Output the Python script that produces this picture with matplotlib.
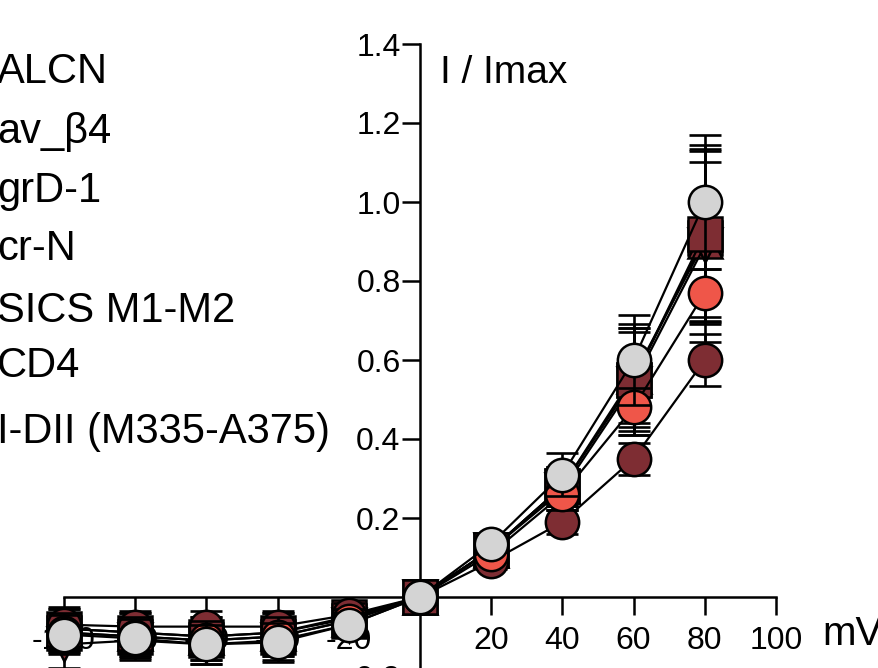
import matplotlib
matplotlib.use("Agg")
import matplotlib.pyplot as plt

plt.rcParams['font.family'] = ['Liberation Sans', 'DejaVu Sans']
plt.rcParams['axes.unicode_minus'] = False

W, H = 879, 668

mv = [-100, -80, -60, -40, -20, 0, 20, 40, 60, 80]

# legend texts (left part of the picture is cut off)
labels = ["ALCN", "av_\u03b24", "grD-1", "cr-N", "SICS M1-M2", "CD4", "I-DII (M335-A375)"]
label_y = [83, 143, 202, 260, 322, 377, 443]

# series: I/Imax and SEM
sq2_y = [-0.09, -0.10, -0.11, -0.10, -0.06, 0, 0.12, 0.28, 0.55, 0.91]
sq2_e = [0.05, 0.05, 0.05, 0.05, 0.03, 0, 0.02, 0.05, 0.13, 0.22]
uptri_y = [-0.08, -0.09, -0.10, -0.09, -0.055, 0, 0.12, 0.28, 0.56, 0.90]
uptri_e = [0.05, 0.05, 0.05, 0.05, 0.03, 0, 0.02, 0.05, 0.12, 0.20]
dntri_y = [-0.12, -0.11, -0.12, -0.11, -0.07, 0, 0.12, 0.27, 0.54, 0.89]
dntri_e = [0.06, 0.05, 0.05, 0.05, 0.03, 0, 0.02, 0.05, 0.13, 0.245]
square_y = [-0.08, -0.09, -0.10, -0.09, -0.05, 0, 0.12, 0.28, 0.55, 0.92]
square_e = [0.055, 0.05, 0.05, 0.05, 0.03, 0, 0.02, 0.05, 0.14, 0.225]
dark_y = [-0.07, -0.075, -0.075, -0.075, -0.045, 0, 0.09, 0.19, 0.35, 0.60]
dark_e = [0.04, 0.04, 0.04, 0.04, 0.03, 0, 0.02, 0.03, 0.04, 0.065]
red_y = [-0.09, -0.10, -0.11, -0.10, -0.06, 0, 0.11, 0.26, 0.48, 0.77]
red_e = [0.05, 0.05, 0.05, 0.05, 0.03, 0, 0.02, 0.04, 0.05, 0.06]
grey_y = [-0.095, -0.105, -0.12, -0.115, -0.07, 0, 0.135, 0.31, 0.60, 1.00]
grey_e = [0.05, 0.05, 0.05, 0.05, 0.03, 0, 0.02, 0.055, 0.115, 0.17]

maroon = '#7e2d33'
red = '#ef5649'
grey = '#d4d4d4'

series = [
    (sq2_y, sq2_e, 's', maroon),
    (uptri_y, uptri_e, '^', maroon),
    (dntri_y, dntri_e, 'v', maroon),
    (square_y, square_e, 's', maroon),
    (dark_y, dark_e, 'o', maroon),
    (red_y, red_e, 'o', red),
    (grey_y, grey_e, 'o', grey),
]

fig = plt.figure(figsize=(W / 100, H / 100), dpi=100)
ax = fig.add_axes([64 / W, 1 - 676 / H, 712 / W, 632 / H])

for i, (y, e, m, c) in enumerate(series):
    z = 3 + i
    ax.errorbar(mv, y, yerr=e, fmt='none', ecolor='black', elinewidth=1.9,
                capsize=11.5, capthick=1.9, zorder=z, clip_on=False)
    ax.plot(mv, y, color='black', lw=1.6, marker=m, markersize=24,
            markerfacecolor=c, markeredgecolor='black', markeredgewidth=1.8,
            zorder=z + 0.5, clip_on=False)

ax.set_xlim(-100, 100)
ax.set_ylim(-0.2, 1.4)
ax.spines['left'].set_position(('data', 0))
ax.spines['bottom'].set_position(('data', 0))
ax.spines['top'].set_visible(False)
ax.spines['right'].set_visible(False)
for s in ['left', 'bottom']:
    ax.spines[s].set_linewidth(1.8)

xt = [-100, -80, -60, -40, -20, 20, 40, 60, 80, 100]
yt = [-0.2, 0.2, 0.4, 0.6, 0.8, 1.0, 1.2, 1.4]
ax.set_xticks(xt)
ax.set_xticklabels([str(v) for v in xt])
ax.set_yticks(yt)
ax.set_yticklabels(['%.1f' % v for v in yt])
ax.tick_params(direction='out', length=13, width=1.8, labelsize=23)
ax.tick_params(axis='x', pad=8)
ax.tick_params(axis='y', pad=1)
ax.patch.set_alpha(0)

fig.text(440 / W, 1 - 83 / H, "I / Imax", fontsize=28, va='baseline', ha='left')
fig.text(822 / W, 1 - 645 / H, "mV", fontsize=29, va='baseline', ha='left')

for t, py in zip(labels, label_y):
    fig.text(-3 / W, 1 - py / H, t, fontsize=30, va='baseline', ha='left')

fig.savefig('out.png', dpi=100)
